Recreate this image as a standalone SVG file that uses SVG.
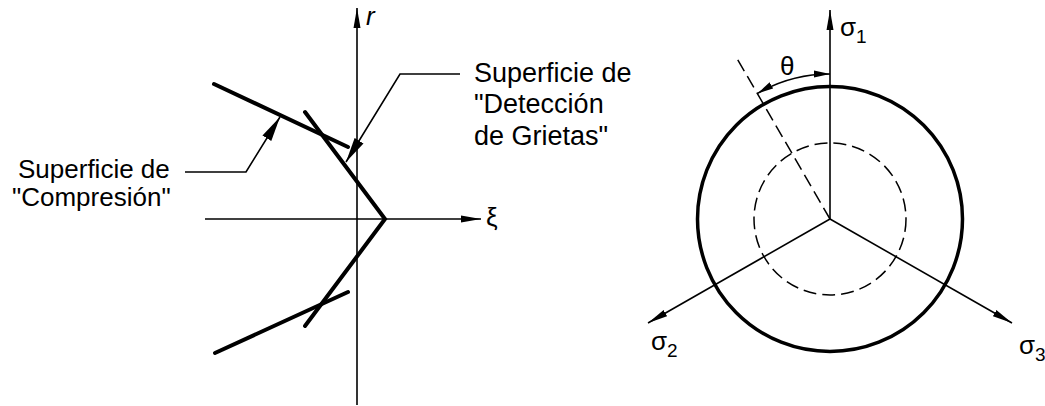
<svg xmlns="http://www.w3.org/2000/svg" width="1045" height="406" viewBox="0 0 1045 406">
<style>
text{font-family:"Liberation Sans",Arial,sans-serif;fill:#000}
.lbl{font-size:26px}
.lblr{font-size:27px}
.axis{stroke:#000;stroke-width:1.6;fill:none}
.thick{stroke:#000;stroke-width:4;fill:none;stroke-linecap:round;stroke-linejoin:miter}
.lead{stroke:#000;stroke-width:1.6;fill:none}
.dash{stroke:#000;stroke-width:1.5;fill:none;stroke-dasharray:13 6}
</style>
<defs>
<marker id="ax" markerUnits="userSpaceOnUse" markerWidth="21" markerHeight="8" refX="20" refY="4" orient="auto-start-reverse">
<path d="M0,0.5 L20,4 L0,7.5 z" fill="#000"/>
</marker>
<marker id="ld" markerUnits="userSpaceOnUse" markerWidth="26" markerHeight="12" refX="25" refY="6" orient="auto">
<path d="M0,0.8 L25,6 L0,11.2 z" fill="#000"/>
</marker>
<marker id="sm" markerUnits="userSpaceOnUse" markerWidth="17" markerHeight="8" refX="16" refY="4" orient="auto-start-reverse">
<path d="M0,0.5 L16,4 L0,7.5 z" fill="#000"/>
</marker>
</defs>

<g id="left-axes" class="connectors">
<line class="axis" x1="357" y1="405" x2="357" y2="8" marker-end="url(#ax)"/>
<line class="axis" x1="205" y1="219" x2="481" y2="219" marker-end="url(#ax)"/>
</g>
<g id="r-label"><text x="366" y="25" class="lbl" font-style="italic">r</text></g>
<g id="xi-label"><text x="486" y="226" class="lbl">ξ</text></g>

<g id="surfaces">
<line class="thick" x1="214" y1="84" x2="348" y2="147"/>
<polyline class="thick" points="305,112 385,219 305,326"/>
<line class="thick" x1="215" y1="353" x2="348" y2="292"/>
</g>

<g id="leaders" class="connectors">
<polyline class="lead" points="185,172 246,172 280,117" marker-end="url(#ld)"/>
<polyline class="lead" points="460,74 400,74 346,162" marker-end="url(#ld)"/>
</g>

<g id="compresion-label">
<text class="lbl" x="18" y="178">Superficie de</text>
<text class="lbl" x="12" y="206">"Compresión"</text>
</g>
<g id="deteccion-label">
<text class="lblr" x="474" y="82">Superficie de</text>
<text class="lblr" x="474" y="113">"Detección</text>
<text class="lblr" x="474" y="145">de Grietas"</text>
</g>

<g id="right-axes" class="connectors">
<line class="axis" x1="830" y1="219" x2="830" y2="10" marker-end="url(#ax)"/>
<line class="axis" x1="830" y1="219" x2="648" y2="323" marker-end="url(#ax)"/>
<line class="axis" x1="830" y1="219" x2="1012" y2="323" marker-end="url(#ax)"/>
<line class="dash" x1="830" y1="219" x2="735" y2="55"/>
<path class="axis" d="M757.5,93.4 A145,145 0 0 1 830,74" marker-start="url(#sm)" marker-end="url(#sm)"/>
</g>

<g id="outer-circle"><circle cx="830" cy="219" r="132.5" fill="none" stroke="#000" stroke-width="3.5"/></g>
<g id="inner-circle"><circle class="dash" cx="830" cy="219" r="76"/></g>

<g id="theta-label"><text class="lbl" x="780" y="75">θ</text></g>
<g id="s1-label"><text class="lbl" x="840" y="36">σ<tspan font-size="19" dy="7">1</tspan></text></g>
<g id="s2-label"><text class="lbl" x="651" y="350">σ<tspan font-size="19" dy="7">2</tspan></text></g>
<g id="s3-label"><text class="lbl" x="1019" y="354">σ<tspan font-size="19" dy="7">3</tspan></text></g>
</svg>
